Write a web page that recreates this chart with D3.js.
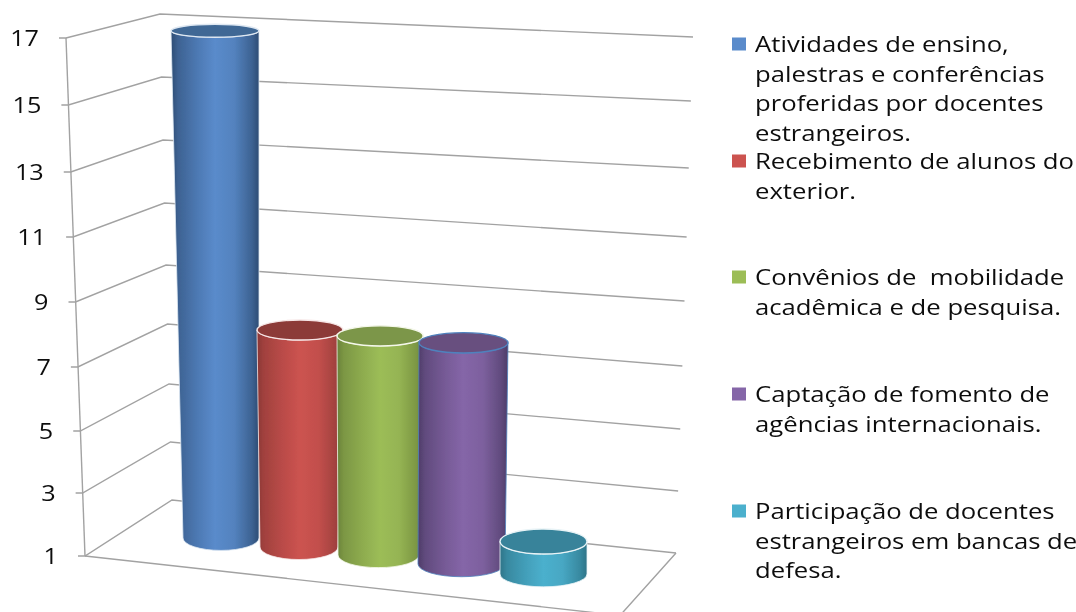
<!DOCTYPE html>
<html><head><meta charset="utf-8">
<script src="https://cdn.jsdelivr.net/npm/d3@7"></script>
<style>html,body{margin:0;padding:0;background:#fff;overflow:hidden}svg{display:block}text{font-family:"Open Sans",sans-serif;fill:#111}</style>
</head><body><svg id="c" width="1076" height="612"></svg>
<script>
const categories = [
  ["Atividades de ensino,","palestras e conferências","proferidas por docentes","estrangeiros."],
  ["Recebimento de alunos do","exterior."],
  ["Convênios de  mobilidade","acadêmica e de pesquisa."],
  ["Captação de fomento de","agências internacionais."],
  ["Participação de docentes","estrangeiros em bancas de","defesa."]
];
const values = [17, 8, 8, 8, 2];
const tickLabels = [1, 3, 5, 7, 9, 11, 13, 15, 17];
const colors = [
  {edge:"#2d4c74", mid:"#5a8bcb", top:"#3f6895", line:"#dfe8f2"},
  {edge:"#8a3735", mid:"#cc5350", top:"#8c3a38", line:"#f6e6e6"},
  {edge:"#6a823a", mid:"#9cbd57", top:"#7b9648", line:"#f4f7ea"},
  {edge:"#4e3c68", mid:"#8566a8", top:"#674f7f", line:"#4f81bd"},
  {edge:"#2e7488", mid:"#4bb0cd", top:"#37839a", line:"#e8f3f6"}
];

const svg = d3.select("#c");

// Chart box projected through scales
const frontX = d3.scaleLinear().domain([1,17]).range([85,66]);
const frontY = d3.scaleLinear().domain(tickLabels).range([556,493,431,367,302,237,172,105,38]);
const backX  = d3.scaleLinear().domain([1,17]).range([172,160]);
const backY  = d3.scaleLinear().domain(tickLabels).range([500,442,384,324,265,203,140,77,14]);
const rightX = d3.scaleLinear().domain([1,17]).range([676,693]);
const rightY = d3.scaleLinear().domain(tickLabels).range([553,491,429,366,301,237,168,101,37]);

// Cylinder placement scales, by series index
const idx = [0,1,2,3,4];
const baseL = d3.scaleLinear().domain(idx).range([183,260,338,418,500]);
const baseR = d3.scaleLinear().domain(idx).range([259,338,419,505,587]);
const baseY = d3.scaleLinear().domain(idx).range([538,547,555,564,574]);
const leanL = d3.scaleLinear().domain(idx).range([0.75,0.43,0.14,-0.14,0]);
const leanR = d3.scaleLinear().domain(idx).range([0,0.7,0.6,0.43,0]);
const unit  = d3.scaleLinear().domain(idx).range([31.7,31,31.3,31.6,32.5]);
const ryOf  = d3.scaleLinear().domain([30,330,545]).range([6.5,10,12.5]);

const defs = svg.append("defs");
defs.append("filter").attr("id","soft").attr("x","-2%").attr("y","-2%").attr("width","104%").attr("height","104%")
  .append("feGaussianBlur").attr("stdDeviation",0.55);
const grads = defs.selectAll("linearGradient").data(colors).join("linearGradient")
  .attr("id",(d,i)=>"g"+i).attr("x1",0).attr("x2",1).attr("y1",0).attr("y2",0);
grads.each(function(d){
  const g = d3.select(this);
  const mix = d3.interpolateRgb(d.edge,d.mid);
  [[0,mix(0)],[0.08,mix(0.35)],[0.3,mix(0.72)],[0.5,mix(1)],[0.72,mix(0.85)],[0.92,mix(0.35)],[1,mix(0)]]
    .forEach(s=>g.append("stop").attr("offset",s[0]).attr("stop-color",s[1]));
});

const root = svg.append("g").attr("filter","url(#soft)");
const grid = root.append("g").attr("fill","none").attr("stroke","#a2a2a2").attr("stroke-width",1.4);

// Floor front edges
const floorFront = [620,615.5];
grid.append("path").attr("d",d3.line()([[frontX(1),frontY(1)],floorFront,[rightX(1),rightY(1)]]));
// Vertical axis
grid.append("line").attr("x1",frontX(1)).attr("y1",frontY(1)).attr("x2",frontX(17)).attr("y2",frontY(17));
// Gridlines and ticks
grid.selectAll("path.gl").data(tickLabels).join("path").attr("class","gl")
  .attr("d",v=>d3.line()([[frontX(v)-7,frontY(v)],[frontX(v),frontY(v)],[backX(v),backY(v)],[rightX(v),rightY(v)]]));

root.selectAll("text.tick").data(tickLabels).join("text").attr("class","tick")
  .attr("transform",v=>`translate(${frontX(v)-27},${frontY(v)+8}) scale(1.2,1)`)
  .attr("text-anchor","end").attr("font-size",21).text(v=>v);

// Cylinders
const cyl = root.selectAll("g.cyl").data(values).join("g").attr("class","cyl");
cyl.each(function(v,i){
  const g = d3.select(this), c = colors[i];
  const by = baseY(i), ty = by - (v-1)*unit(i);
  const bl = baseL(i), br = baseR(i);
  const tl = bl - (v-1)*leanL(i), tr = br + (v-1)*leanR(i);
  const bry = ryOf(by), try_ = ryOf(ty);
  const brx = (br-bl)/2, trx = (tr-tl)/2;
  g.append("path")
    .attr("d",`M${tl},${ty}L${bl},${by}A${brx},${bry} 0 0 0 ${br},${by}L${tr},${ty}A${trx},${try_} 0 0 1 ${tl},${ty}Z`)
    .attr("fill",`url(#g${i})`).attr("stroke",c.line).attr("stroke-width",1).attr("stroke-opacity",0.8);
  g.append("ellipse").attr("cx",(tl+tr)/2).attr("cy",ty).attr("rx",trx).attr("ry",try_)
    .attr("fill",c.top).attr("stroke",c.line).attr("stroke-width",1.4);
});

// Legend
const legendTop = [44,161,277,394,511];
const lineGap = 29.7;
const leg = root.selectAll("g.leg").data(categories).join("g").attr("class","leg")
  .attr("transform",(d,i)=>`translate(732,${legendTop[i]})`);
leg.append("rect").attr("x",0).attr("y",-6.5).attr("width",14).attr("height",13)
  .attr("fill",(d,i)=>colors[i].mid);
leg.selectAll("text").data(d=>d).join("text")
  .attr("transform",(d,j)=>`translate(23,${8+j*lineGap}) scale(1.168,1)`)
  .attr("font-size",22).attr("xml:space","preserve").style("white-space","pre").text(d=>d);
</script></body></html>
